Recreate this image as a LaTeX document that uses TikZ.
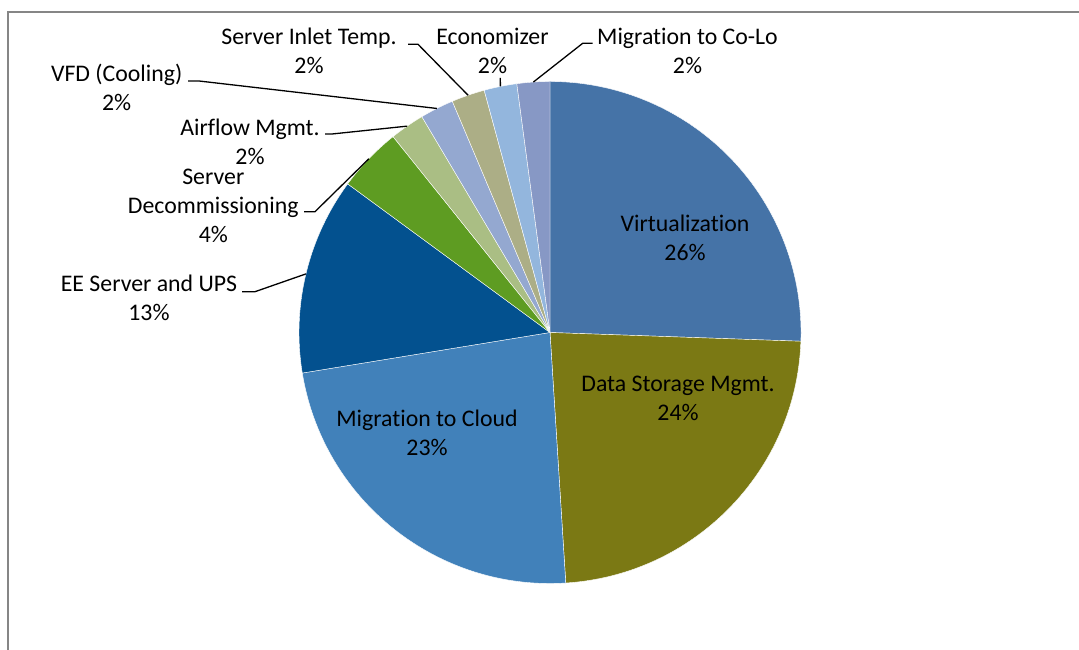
\documentclass[tikz,border=0pt]{standalone}
\usepackage{fontspec}
\setmainfont[Ligatures={NoCommon}]{Carlito}
\definecolor{cVirt}{HTML}{4573A7}
\definecolor{cData}{HTML}{7B7914}
\definecolor{cCloud}{HTML}{4181BA}
\definecolor{cEE}{HTML}{03518F}
\definecolor{cDecom}{HTML}{5E9C22}
\definecolor{cAir}{HTML}{AABE84}
\definecolor{cVFD}{HTML}{94A8D0}
\definecolor{cInlet}{HTML}{ACAE86}
\definecolor{cEcon}{HTML}{93B6DD}
\definecolor{cColo}{HTML}{8798C5}
\definecolor{frameGray}{HTML}{868686}
\begin{document}
\begin{tikzpicture}[x=1pt,y=1pt,
  lbl/.style={font=\fontsize{23.8}{29}\selectfont, inner sep=0pt, anchor=base, text=black},
  leader/.style={draw=black, line width=1.3pt},
  slice/.style={draw=white, line width=0.4pt},
  chartframe/.style={draw=frameGray, line width=1.6pt}]
\useasboundingbox (0,0) rectangle (1079,650);

% chart area border (top and left edges)
\draw[chartframe] (1079,638) -- (8,638) -- (8,0);

% pie centre
\coordinate (c) at (550,317.5);
\def\R{251}

% slices: start angle / end angle / colour
\foreach \a/\b/\col in {-2/90/cVirt, -86.4/-2/cData, 189.3/273.6/cCloud,
    143.7/189.3/cEE, 128.7/143.7/cDecom, 120.7/128.7/cAir,
    112.9/120.7/cVFD, 105.2/112.9/cInlet, 97.6/105.2/cEcon, 90/97.6/cColo}
  \filldraw[slice, fill=\col] (c) -- ([shift={(\a:\R)}]c) arc[start angle=\a, end angle=\b, radius=\R] -- cycle;

% rim points where the leader lines meet the slices
\coordinate (mColo)  at ([shift={(93.8:\R)}]c);
\coordinate (mEcon)  at ([shift={(101.4:\R)}]c);
\coordinate (mInlet) at ([shift={(109.05:\R)}]c);
\coordinate (mVFD)   at ([shift={(116.8:\R)}]c);
\coordinate (mAir)   at ([shift={(124.7:\R)}]c);
\coordinate (mDecom) at ([shift={(136.2:\R)}]c);
\coordinate (mEE)    at ([shift={(166.5:\R)}]c);

% labels inside the pie
\node[lbl] (virt)  at (685,418)   {\begin{tabular}[t]{@{}c@{}}Virtualization\\26\%\end{tabular}};
\node[lbl] (data)  at (678,258)   {\begin{tabular}[t]{@{}c@{}}Data Storage Mgmt.\\24\%\end{tabular}};
\node[lbl] (cloud) at (427,223.3) {\begin{tabular}[t]{@{}c@{}}Migration to Cloud\\23\%\end{tabular}};

% labels outside the pie
\node[lbl] (ee)    at (149,358.3) {\begin{tabular}[t]{@{}c@{}}EE Server and UPS\\13\%\end{tabular}};
\node[lbl] (decom) at (213.3,465.5) {\begin{tabular}[t]{@{}c@{}}Server\\Decommissioning\\4\%\end{tabular}};
\node[lbl] (air)   at (250,514.5) {\begin{tabular}[t]{@{}c@{}}Airflow Mgmt.\\2\%\end{tabular}};
\node[lbl] (vfd)   at (116.7,568) {\begin{tabular}[t]{@{}c@{}}VFD (Cooling)\\2\%\end{tabular}};
\node[lbl] (inlet) at (309,605.4) {\begin{tabular}[t]{@{}c@{}}Server Inlet Temp.\\2\%\end{tabular}};
\node[lbl] (econ)  at (492.5,605.4) {\begin{tabular}[t]{@{}c@{}}Economizer\\2\%\end{tabular}};
\node[lbl] (colo)  at (687.5,605.4) {\begin{tabular}[t]{@{}c@{}}Migration to Co-Lo\\2\%\end{tabular}};

% leader line start points next to the labels
\coordinate (sColo)  at (592.7,606.7);
\coordinate (kColo)  at (582.7,606.7);
\coordinate (sEcon)  at (500.3,572);
\coordinate (sInlet) at (408,605.7);
\coordinate (kInlet) at (418,605.7);
\coordinate (sVFD)   at (188,569);
\coordinate (kVFD)   at (199,569);
\coordinate (sAir)   at (325,516);
\coordinate (kAir)   at (332,516);
\coordinate (sDecom) at (304,438.3);
\coordinate (kDecom) at (315,438.3);
\coordinate (sEE)    at (242,358.3);
\coordinate (kEE)    at (255,358.3);

% leader lines
\draw[leader] (sColo) -- (kColo) -- (mColo);
\draw[leader] (sEcon) -- (mEcon);
\draw[leader] (sInlet) -- (kInlet) -- (mInlet);
\draw[leader] (sVFD) -- (kVFD) -- (mVFD);
\draw[leader] (sAir) -- (kAir) -- (mAir);
\draw[leader] (sDecom) -- (kDecom) -- (mDecom);
\draw[leader] (sEE) -- (kEE) -- (mEE);
\end{tikzpicture}
\end{document}
